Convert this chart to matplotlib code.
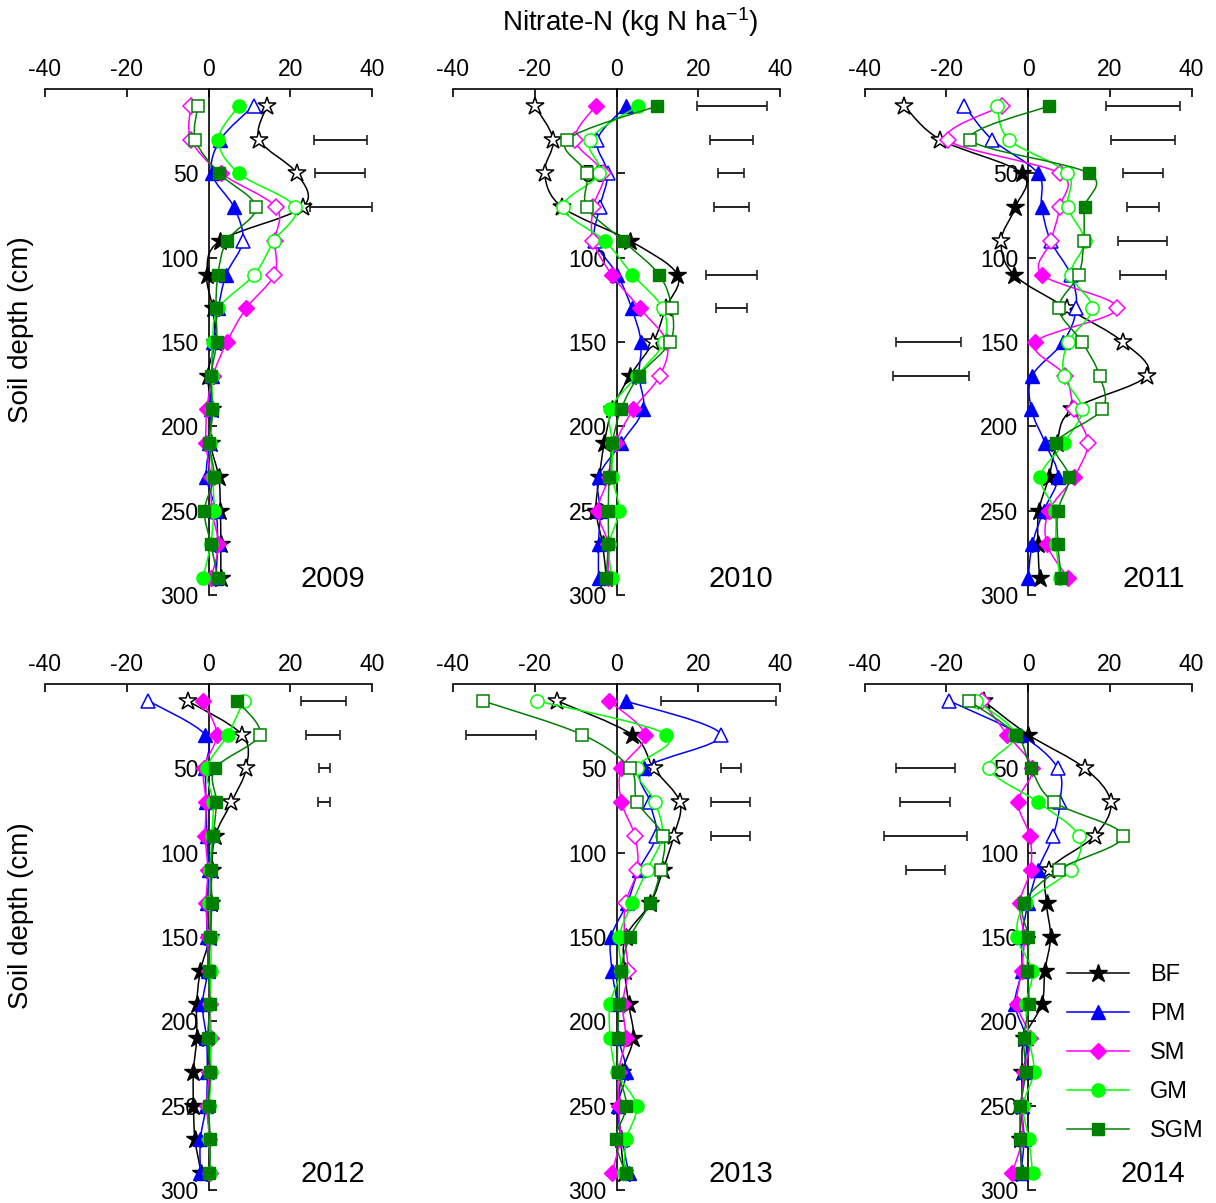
import matplotlib
matplotlib.use("Agg")
import matplotlib.pyplot as plt
import numpy as np
from matplotlib.lines import Line2D
from matplotlib.patches import PathPatch
from matplotlib.path import Path

plt.rcParams["font.family"] = ["Liberation Sans", "DejaVu Sans"]
plt.rcParams["mathtext.fontset"] = "custom"
plt.rcParams["mathtext.rm"] = "Liberation Sans"
plt.rcParams["mathtext.it"] = "Liberation Sans:italic"
plt.rcParams["axes.unicode_minus"] = False

DEPTHS = [10, 30, 50, 70, 90, 110, 130, 150, 170, 190, 210, 230, 250, 270, 290]
TREATMENTS = ["BF", "PM", "SM", "GM", "SGM"]
YEARS = [2009, 2010, 2011, 2012, 2013, 2014]

# nitrate-N change per depth, one list per treatment and year
N2009 = {
    "BF": [14.3, 12.4, 21.6, 23.0, 2.8, -0.4, 1.0, 1.5, -0.2, 0.9, 0.5, 2.5, 2.9, 3.0, 3.0],
    "PM": [11.0, 2.9, 0.8, 6.2, 8.4, 4.3, 2.4, 1.2, 0.8, 0.5, 0.2, -0.5, 1.8, 2.2, 1.8],
    "SM": [-4.3, -4.3, 3.1, 16.5, 16.2, 16.1, 9.2, 4.5, 1.1, -0.4, -0.6, 0.5, 0.8, 2.4, 0.6],
    "GM": [7.4, 2.4, 7.4, 21.2, 16.0, 11.2, 2.4, 1.0, 0.8, 0.9, 0.3, 1.0, 1.3, 0.5, -1.4],
    "SGM": [-2.6, -3.2, 2.6, 11.6, 4.5, 2.3, 1.8, 2.0, 0.6, 0.9, 0.2, 1.3, -1.0, 0.6, 2.3],
}
N2010 = {
    "BF": [-20.0, -15.5, -17.6, -13.3, 3.3, 14.9, 12.0, 9.0, 3.3, -1.0, -3.0, -4.2, -5.0, -3.4, -2.5],
    "PM": [2.4, -4.7, -2.2, -4.1, -5.3, 0.2, 3.7, 6.0, 5.5, 6.5, 1.1, -4.4, -4.0, -4.4, -4.4],
    "SM": [-5.1, -10.2, -3.3, -5.7, -5.7, -1.2, 5.7, 12.3, 10.6, 4.1, -0.2, -1.8, -4.6, -2.0, -2.2],
    "GM": [5.3, -6.5, -4.2, -13.1, -2.9, 3.9, 11.3, 11.6, 5.0, -1.5, -1.0, -1.0, 0.6, -1.8, -1.2],
    "SGM": [10.0, -12.0, -7.3, -7.3, 1.6, 10.4, 13.5, 13.1, 5.5, 1.1, -1.0, -1.8, -2.0, -2.0, -2.6],
}
N2011 = {
    "BF": [-30.3, -21.5, -1.5, -3.1, -6.6, -3.5, 9.6, 23.2, 29.0, 10.8, 7.0, 5.1, 2.6, 2.4, 2.8],
    "PM": [-15.6, -8.8, 2.4, 3.3, 5.5, 10.4, 11.8, 8.6, 1.0, 0.8, 4.2, 7.3, 3.8, 1.0, 0.0],
    "SM": [-6.4, -19.7, 7.7, 7.7, 5.6, 3.4, 21.8, 1.8, 9.1, 11.2, 14.6, 11.2, 5.1, 4.6, 9.8],
    "GM": [-7.6, -4.7, 9.6, 9.7, 13.8, 10.5, 15.7, 9.8, 8.7, 13.2, 8.7, 3.0, 6.5, 6.8, 7.8],
    "SGM": [5.1, -14.1, 14.9, 13.8, 13.6, 12.4, 7.5, 13.2, 17.5, 18.1, 6.7, 10.0, 7.3, 7.3, 8.1],
}
N2012 = {
    "BF": [-5.1, 8.2, 9.2, 5.6, 1.6, 0.8, 0.6, 0.3, -2.0, -2.9, -2.9, -3.7, -3.7, -3.3, -1.8],
    "PM": [-14.7, -0.8, -0.8, -0.6, -0.4, 0.0, -0.3, -0.4, -0.2, -1.5, -0.5, -0.3, -0.6, -2.0, -2.0],
    "SM": [-1.4, 2.0, -1.2, -0.6, -0.8, -0.2, -0.6, -0.2, 0.0, 0.3, 0.6, 0.2, -0.4, 0.2, 0.4],
    "GM": [8.6, 4.7, -0.4, 1.1, 0.8, 0.4, 0.2, 0.5, 0.6, 0.3, 0.4, 0.6, 0.2, 0.2, 0.4],
    "SGM": [6.9, 12.5, 1.6, 1.9, 1.2, 0.6, 0.8, 0.4, 0.0, 0.3, -0.2, 0.4, 0.0, 0.4, 0.2],
}
N2013 = {
    "BF": [-14.5, 3.8, 9.1, 15.5, 14.0, 11.4, 8.3, 2.2, 2.0, 3.0, 4.1, 1.4, 0.5, 1.0, 1.8],
    "PM": [2.2, 25.5, 6.7, 8.2, 9.7, 5.5, 2.6, -1.3, -1.1, 0.2, 0.5, 2.4, 0.3, 1.4, 3.0],
    "SM": [-1.9, 6.9, 1.2, 1.2, 4.5, 5.1, 2.2, 2.0, 2.8, 1.5, 2.2, 0.5, 0.5, 0.8, -1.1],
    "GM": [-19.4, 12.2, 4.9, 9.4, 11.2, 7.5, 3.8, 0.6, 1.0, -1.6, -1.5, 0.0, 4.9, 2.4, 1.8],
    "SGM": [-32.7, -8.4, 3.3, 5.1, 11.4, 10.8, 8.2, 3.3, 1.0, 0.6, 0.3, 0.4, 2.4, -0.2, 2.2],
}
N2014 = {
    "BF": [-10.9, 0.0, 13.9, 20.2, 16.3, 5.1, 4.5, 5.5, 4.1, 3.3, -1.0, -1.5, -1.5, -2.0, -1.5],
    "PM": [-19.3, -1.9, 7.3, 7.8, 6.1, 2.4, 0.0, -1.5, -1.6, -3.2, -0.5, -1.0, -1.6, -1.0, -1.8],
    "SM": [-11.3, -5.1, 1.0, -2.5, 0.4, 0.6, -2.1, -1.0, -1.6, -2.7, 0.5, -1.0, -1.5, -1.5, -3.9],
    "GM": [-12.7, -3.1, -9.5, 2.4, 12.4, 10.4, -0.5, -2.7, 1.0, -0.5, 0.2, 1.4, -1.2, 0.2, 1.1],
    "SGM": [-14.5, -2.9, 0.7, 6.3, 23.2, 7.5, -1.1, 0.0, -0.2, 0.2, -1.1, -0.6, -1.9, -1.9, -1.5],
}

# o = open symbol, f = filled symbol (one character per depth)
OPEN2009 = {"BF": "oooofffffffffff", "PM": "offfoffffffffff", "SM": "oofooofffffffff",
            "GM": "fffooofffffffff", "SGM": "oofofffffffffff"}
OPEN2010 = {"BF": "ooooffoofffffff", "PM": "foooofffoffffff", "SM": "fooooffooffffff",
            "GM": "foooffoofffffff", "SGM": "foooffoofffffff"}
OPEN2011 = {"BF": "ooffofoooofffff", "PM": "ooffooofffffff" + "f",
            "SM": "ooooofofoooffff", "GM": "oooofooooofffff", "SGM": "foffoooooofffff"}
OPEN2012 = {"BF": "oooofffffffffff", "PM": "offffffffffffff", "SM": "fffffffffffffff",
            "GM": "offffffffffffff", "SGM": "fofffffffffffff"}
OPEN2013 = {"BF": "ofoooffffffffff", "PM": "fofoofffffffff" + "f",
            "SM": "ffffooofofffff" + "f", "GM": "ofoooofffffffff", "SGM": "ooooooffffffff" + "f"}
OPEN2014 = {"BF": "ofoooofffffffff", "PM": "ofooofffffffff" + "f",
            "SM": "offffffffffffff", "GM": "ofofoofffffffff", "SGM": "offoooffffffff" + "f"}

# error bars: (depth, left end, right end)
BARS2009 = [(30, 25.7, 38.8), (50, 26.1, 38.3), (70, 24.7, 39.9)]
BARS2010 = [(10, 19.6, 36.7), (30, 22.9, 33.5), (50, 24.9, 31.3), (70, 23.8, 32.5),
            (110, 22.0, 34.3), (130, 24.3, 31.8)]
BARS2011 = [(10, 19.1, 37.1), (30, 20.2, 35.8), (50, 23.2, 33.0), (70, 24.1, 32.0),
            (90, 22.0, 33.9), (110, 22.4, 33.6), (150, -32.2, -16.4), (170, -33.0, -14.5)]
BARS2012 = [(10, 22.7, 33.6), (30, 23.9, 32.2), (50, 26.9, 29.6), (70, 26.7, 29.8)]
BARS2013 = [(10, 10.8, 38.9), (30, -36.7, -19.7), (50, 25.6, 30.4), (70, 23.2, 32.7), (90, 23.2, 32.7)]
BARS2014 = [(50, -32.2, -18.0), (70, -31.3, -19.0), (90, -35.3, -14.9), (110, -29.8, -20.4)]

VALUES = [N2009, N2010, N2011, N2012, N2013, N2014]
OPENS = [OPEN2009, OPEN2010, OPEN2011, OPEN2012, OPEN2013, OPEN2014]
BARS = [BARS2009, BARS2010, BARS2011, BARS2012, BARS2013, BARS2014]

COLORS = {"BF": "black", "PM": "#0000ff", "SM": "#ff00ff", "GM": "#00ff00", "SGM": "#008000"}
MARKERS = {"BF": "*", "PM": "^", "SM": "D", "GM": "o", "SGM": "s"}
SIZES = {"BF": 13.5, "PM": 9.5, "SM": 8, "GM": 9.5, "SGM": 8.5}


def smooth_path(xs, ys):
    # Catmull-Rom spline through the points, as cubic Bezier segments
    pts = np.column_stack([xs, ys]).astype(float)
    n = len(pts)
    verts = [pts[0]]
    codes = [Path.MOVETO]
    for i in range(n - 1):
        p0 = pts[max(i - 1, 0)]
        p1 = pts[i]
        p2 = pts[i + 1]
        p3 = pts[min(i + 2, n - 1)]
        verts += [p1 + (p2 - p0) / 6, p2 - (p3 - p1) / 6, p2]
        codes += [Path.CURVE4] * 3
    return Path(verts, codes)


def draw_panel(ax, year, values, opens, bars):
    ax.set_xlim(-40, 40)
    ax.set_ylim(300, 0)
    for k, name in enumerate(TREATMENTS):
        x = np.array(values[name])
        y = np.array(DEPTHS)
        c = COLORS[name]
        ax.add_patch(PathPatch(smooth_path(x, y), fill=False, edgecolor=c, lw=1.1, zorder=3 + k))
        flags = np.array(list(opens[name]))
        filled = flags == "f"
        ax.plot(x[filled], y[filled], ls="none", marker=MARKERS[name], ms=SIZES[name],
                mfc=c, mec=c, mew=1.0, zorder=3.5 + k)
        ax.plot(x[~filled], y[~filled], ls="none", marker=MARKERS[name], ms=SIZES[name],
                mfc="white", mec=c, mew=1.1, zorder=3.5 + k)
    for depth, lo, hi in bars:
        ax.errorbar((lo + hi) / 2, depth, xerr=(hi - lo) / 2, fmt="none", ecolor="#222222",
                    elinewidth=1.4, capsize=3.8, capthick=1.2, zorder=2)

    ax.xaxis.tick_top()
    ax.set_xticks([-40, -20, 0, 20, 40])
    ax.set_yticks([50, 100, 150, 200, 250, 300])
    ax.spines["left"].set_position(("data", 0))
    ax.spines["bottom"].set_visible(False)
    ax.spines["right"].set_visible(False)
    for s in ("top", "left"):
        ax.spines[s].set_linewidth(1.2)
    ax.tick_params(axis="x", direction="in", length=6, width=1.2, labelsize=16.5, pad=6)
    ax.tick_params(axis="y", direction="in", length=6, width=1.2, labelsize=16.5, pad=7)
    ax.patch.set_visible(False)
    ax.text(0.98, 0.016, str(year), transform=ax.transAxes, ha="right", va="baseline", fontsize=21)


fig = plt.figure(figsize=(12.16, 12.03), dpi=100)
lefts = [0.037, 0.3725, 0.711]
bottoms = [0.5054, 0.0108]
axes = []
for i, year in enumerate(YEARS):
    ax = fig.add_axes([lefts[i % 3], bottoms[i // 3], 0.269, 0.4206])
    draw_panel(ax, year, VALUES[i], OPENS[i], BARS[i])
    axes.append(ax)

handles = [Line2D([], [], color=COLORS[t], marker=MARKERS[t], ms=SIZES[t], lw=1.1,
                  mfc=COLORS[t], mec=COLORS[t]) for t in TREATMENTS]
axes[5].legend(handles, TREATMENTS, loc="upper left", bbox_to_anchor=(0.555, 0.488),
               frameon=False, fontsize=17, handlelength=2.6, labelspacing=0.72,
               handletextpad=0.9)

fig.text(0.518, 0.982, r"Nitrate-N (kg N ha$^{-1}$)", ha="center", va="center", fontsize=20)
fig.text(0.017, 0.726, "Soil depth (cm)", rotation=90, ha="center", va="center", fontsize=20)
fig.text(0.017, 0.239, "Soil depth (cm)", rotation=90, ha="center", va="center", fontsize=20)

fig.savefig("out.png", dpi=100)
